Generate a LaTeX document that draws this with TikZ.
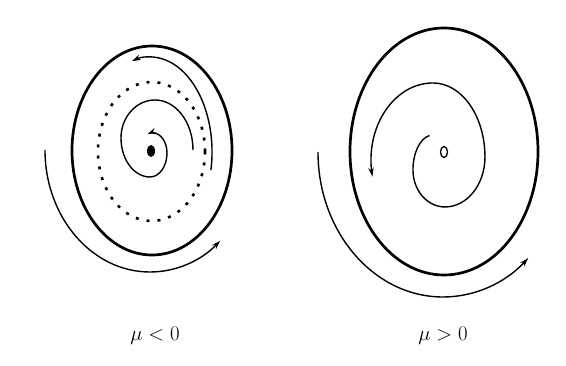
\documentclass[tikz,border=0pt]{standalone}
\usetikzlibrary{arrows.meta}
\begin{document}
\begin{tikzpicture}[x=1pt,y=-1pt,
  orbit/.style={line width=2.7pt},
  traj/.style={line width=1.4pt},
  tip/.style={-{Stealth[length=9pt,width=5.5pt]}},
  dotlimit/.style={line width=2.6pt, dash pattern=on 3pt off 8pt},
  lbl/.style={font=\fontsize{20}{24}\selectfont}]
\useasboundingbox (0,0) rectangle (566,366);
% ---------- left: mu < 0 ----------
\draw[orbit] (152,150.5) ellipse [x radius=80, y radius=104.5];
\draw[dotlimit] (151.5,151.5) ellipse [x radius=53.5, y radius=69.5];
\fill (151,151) ellipse [x radius=4, y radius=6];
\draw[traj,tip] (210.9,170.1) arc[start angle=11, end angle=-107, x radius=62, y radius=95];
\draw[traj,tip] (193,150)
  arc[start angle=0, end angle=-90, x radius=38, y radius=50]
  arc[start angle=-90, end angle=-180, x radius=34, y radius=38]
  arc[start angle=-180, end angle=-270, x radius=29, y radius=39]
  arc[start angle=-270, end angle=-360, x radius=17, y radius=24]
  arc[start angle=-360, end angle=-450, x radius=14, y radius=20]
  arc[start angle=-450, end angle=-478, x radius=12, y radius=10];
\draw[traj,tip] (45,150) arc[start angle=180, end angle=48, x radius=105, y radius=122];
% ---------- right: mu > 0 ----------
\draw[orbit] (444,151.5) ellipse [x radius=94, y radius=123.5];
\draw[line width=1.3pt] (444,152) ellipse [x radius=3.5, y radius=5.5];
\draw[traj,tip] (429.5,135.5)
  arc[start angle=-100, end angle=-180, x radius=20, y radius=35]
  arc[start angle=-180, end angle=-270, x radius=32, y radius=37]
  arc[start angle=-270, end angle=-360, x radius=40, y radius=50]
  arc[start angle=-360, end angle=-450, x radius=52, y radius=74]
  arc[start angle=-450, end angle=-540, x radius=62, y radius=77]
  arc[start angle=-540, end angle=-552, x radius=70, y radius=80];
\draw[traj,tip] (318,152) arc[start angle=180, end angle=47, x radius=125, y radius=145];
% ---------- labels ----------
\node[lbl] (l1) at (155,336) {$\mu<0$};
\node[lbl] (l2) at (443,336) {$\mu>0$};
\end{tikzpicture}
\end{document}
